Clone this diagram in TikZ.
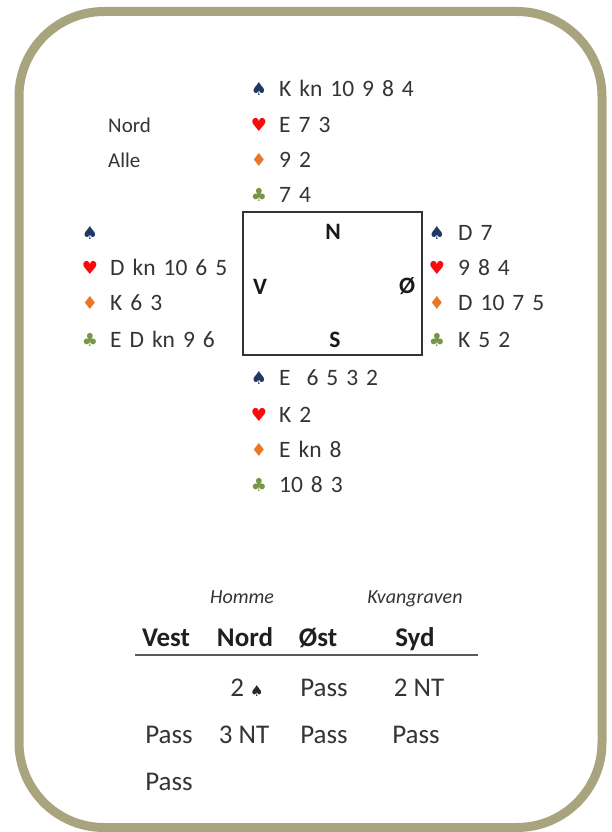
\documentclass[tikz,border=0pt]{standalone}
\usepackage{fontspec}
\setmainfont{Carlito}
\newfontfamily\cardfont[WordSpace=1.5]{Carlito}
\newfontfamily\suitfont{DejaVu Sans}
\usetikzlibrary{positioning}
\definecolor{framecol}{RGB}{168,164,126}
\definecolor{spadecol}{RGB}{31,56,100}
\definecolor{heartcol}{RGB}{250,10,10}
\definecolor{diamcol}{RGB}{232,120,40}
\definecolor{clubcol}{RGB}{119,150,70}
\definecolor{inkcol}{RGB}{52,52,52}
\tikzset{
    frame/.style={draw=framecol, line width=9, rounded corners=85},
    suit/.style={inner sep=0, font=\fontsize{18}{21}\suitfont},
    cards/.style={inner sep=0, anchor=west, text height=15, text depth=0, text=inkcol, font=\fontsize{23.5}{28}\cardfont},
    info/.style={inner sep=0, anchor=west, text height=14, text depth=0, text=inkcol, font=\fontsize{21}{26}\selectfont},
    seat/.style={inner sep=0, text height=15, text depth=0, text=black!90, font=\fontsize{23.5}{28}\selectfont\bfseries},
    dealbox/.style={draw=black!80, line width=2, minimum width=179, minimum height=143, inner sep=0},
    player/.style={inner sep=0, text height=13, text depth=3, text=inkcol, font=\fontsize{20}{24}\selectfont\itshape},
    bidhead/.style={inner sep=0, text height=17, text depth=0, text=black!88, font=\fontsize{27}{32}\selectfont\bfseries},
    bid/.style={inner sep=0, text height=17, text depth=0, text=inkcol, font=\fontsize{27}{32}\selectfont},
    rule/.style={draw=black!65, line width=2},
}
\begin{document}
\begin{tikzpicture}[x=1pt, y=-1pt]
    \useasboundingbox (0,0) rectangle (611,832);
    \draw[frame] (19,11.5) rectangle (602,827.5);

    % deal info
    \node[info] (dealer) at (108,125) {Nord};
    \node[info] (vuln) at (108,160) {Alle};

    % table with seats
    \node[dealbox] (deal) at (332.5,283.5) {};
    \node[seat] (sn) at (333,232) {N};
    \node[seat] (sv) at (260,287) {V};
    \node[seat] (so) at (407,286) {Ø};
    \node[seat] (ss) at (335,340) {S};

    % Nord
    \foreach \y/\s/\c/\t [count=\i] in {89/♠/spadecol/K kn 10 9 8 4, 125/♥/heartcol/E 7 3, 160/♦/diamcol/9 2, 195/♣/clubcol/7 4}{
        \node[suit, text=\c] (ns\i) at (259,\y) {\s};
        \node[cards] (nc\i) at (279,\y) {\t};
    }
    % Vest
    \foreach \y/\s/\c/\t [count=\i] in {233/♠/spadecol/, 268/♥/heartcol/D kn 10 6 5, 303/♦/diamcol/K 6 3, 340/♣/clubcol/E D kn 9 6}{
        \node[suit, text=\c] (vs\i) at (90,\y) {\s};
        \node[cards] (vc\i) at (110,\y) {\t};
    }
    % Øst
    \foreach \y/\s/\c/\t [count=\i] in {233/♠/spadecol/D 7, 268/♥/heartcol/9 8 4, 303/♦/diamcol/D 10 7 5, 340/♣/clubcol/K 5 2}{
        \node[suit, text=\c] (os\i) at (437,\y) {\s};
        \node[cards] (oc\i) at (458,\y) {\t};
    }
    % Syd
    \foreach \y/\s/\c/\t [count=\i] in {378/♠/spadecol/E \ 6 5 3 2, 415/♥/heartcol/K 2, 450/♦/diamcol/E kn 8, 485/♣/clubcol/10 8 3}{
        \node[suit, text=\c] (ss\i) at (259,\y) {\s};
        \node[cards] (sc\i) at (279,\y) {\t};
    }

    % bidding
    \node[player] (pn) at (242,598) {Homme};
    \node[player] (ps) at (415,598) {Kvangraven};
    \foreach \x/\t [count=\i] in {166/Vest, 245/Nord, 318/Øst, 415/Syd}
        \node[bidhead] (h\i) at (\x,638) {\t};
    \coordinate (rl) at (135,655);
    \coordinate (rr) at (478,655);
    \draw[rule] (rl) -- (rr);

    \node[bid] (b2) at (247,688) {2 {\suitfont\fontsize{15}{18}\selectfont\color{black!85}♠}};
    \node[bid] (b3) at (324,688) {Pass};
    \node[bid] (b4) at (419,688) {2 NT};
    \node[bid] (b5) at (169,735) {Pass};
    \node[bid] (b6) at (244,735) {3 NT};
    \node[bid] (b7) at (324,735) {Pass};
    \node[bid] (b8) at (416,735) {Pass};
    \node[bid] (b9) at (169,782) {Pass};
\end{tikzpicture}
\end{document}
